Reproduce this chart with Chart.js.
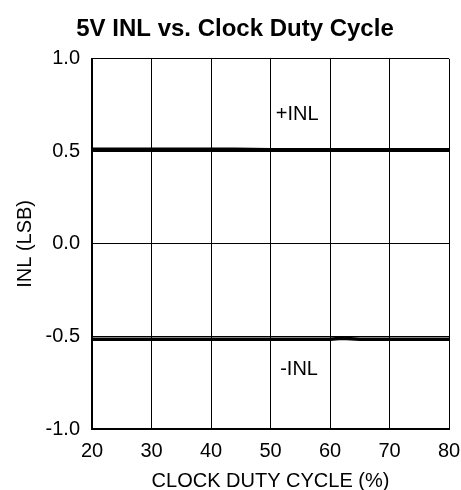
<!DOCTYPE html>
<html>
<head>
<meta charset="utf-8">
<script src="https://cdn.jsdelivr.net/npm/chart.js@4.4.0/dist/chart.umd.min.js"></script>
<style>
    html, body { margin: 0; padding: 0; background: #fff; }
    #wrap { width: 461px; height: 490px; position: relative; }
</style>
</head>
<body>
<div id="wrap"><canvas id="inl-chart"></canvas></div>
<script>
// values
const dutyCycle = [20, 30, 40, 44, 50, 60, 62, 65, 70, 80];
const inlPlus   = [0.51, 0.51, 0.51, 0.51, 0.507, 0.507, 0.507, 0.507, 0.507, 0.507];
const inlMinus  = [-0.515, -0.515, -0.515, -0.515, -0.515, -0.515, -0.51, -0.515, -0.515, -0.515];
const xTicks = [20, 30, 40, 50, 60, 70, 80];
const yTicks = [-1.0, -0.5, 0.0, 0.5, 1.0];
const curveLabels = [
    { text: '+INL', x: 54.5, y: 0.70 },
    { text: '-INL', x: 54.8, y: -0.68 }
];

const FONT = 'Liberation Sans, Arial, Helvetica, sans-serif';

const toPoints = (xs, ys) => xs.map((x, i) => ({ x: x, y: ys[i] }));

// writes +INL / -INL next to the curves
const curveLabelPlugin = {
    id: 'curveLabels',
    afterDatasetsDraw(chart) {
        const ctx = chart.ctx;
        const xs = chart.scales.x;
        const ys = chart.scales.y;
        ctx.save();
        ctx.font = '20px ' + FONT;
        ctx.fillStyle = '#000';
        ctx.textAlign = 'center';
        ctx.textBaseline = 'middle';
        curveLabels.forEach(lbl => {
            ctx.fillText(lbl.text, xs.getPixelForValue(lbl.x), ys.getPixelForValue(lbl.y));
        });
        ctx.restore();
    }
};

new Chart(document.getElementById('inl-chart'), {
    type: 'line',
    data: {
        datasets: [{
            label: '+INL',
            data: toPoints(dutyCycle, inlPlus),
            borderColor: '#000',
            borderWidth: 4,
            pointRadius: 0,
            tension: 0
        }, {
            label: '-INL',
            data: toPoints(dutyCycle, inlMinus),
            borderColor: '#000',
            borderWidth: 3.5,
            pointRadius: 0,
            tension: 0
        }]
    },
    options: {
        responsive: true,
        maintainAspectRatio: false,
        animation: false,
        // left padding nudges the title to the right, as in the original
        layout: { padding: { left: 21, right: 12, top: 0, bottom: 0 } },
        plugins: {
            legend: { display: false },
            tooltip: { enabled: false },
            title: {
                display: true,
                text: '5V INL vs. Clock Duty Cycle',
                color: '#000',
                font: { family: FONT, size: 24, weight: 'bold' },
                padding: { top: 15, bottom: 15 }
            }
        },
        scales: {
            x: {
                type: 'linear',
                min: 20,
                max: 80,
                afterBuildTicks: axis => { axis.ticks = xTicks.map(v => ({ value: v })); },
                afterFit: axis => {
                    axis.height = 61;
                    // keep the plot edge fixed, let the end labels overhang
                    axis.paddingLeft = 0;
                    axis.paddingRight = 0;
                },
                grid: { color: '#000', lineWidth: 1, drawTicks: false },
                border: { color: '#000', width: 2 },
                ticks: {
                    color: '#000',
                    font: { family: FONT, size: 20 },
                    padding: 10,
                    maxRotation: 0
                },
                title: {
                    display: true,
                    text: 'CLOCK DUTY CYCLE (%)',
                    color: '#000',
                    font: { family: FONT, size: 20 },
                    padding: { top: 0, bottom: -3 }
                }
            },
            y: {
                type: 'linear',
                min: -1,
                max: 1,
                afterBuildTicks: axis => { axis.ticks = yTicks.map(v => ({ value: v })); },
                afterFit: axis => {
                    axis.width = 71;
                    axis.paddingTop = 0;
                    axis.paddingBottom = 0;
                },
                grid: { color: '#000', lineWidth: 1, drawTicks: false },
                border: { color: '#000', width: 2 },
                ticks: {
                    color: '#000',
                    font: { family: FONT, size: 20 },
                    padding: 12,
                    callback: v => v.toFixed(1)
                },
                title: {
                    display: true,
                    text: 'INL (LSB)',
                    color: '#000',
                    font: { family: FONT, size: 20 },
                    padding: { top: -8, bottom: 0 }
                }
            }
        }
    },
    plugins: [curveLabelPlugin]
});
</script>
</body>
</html>
